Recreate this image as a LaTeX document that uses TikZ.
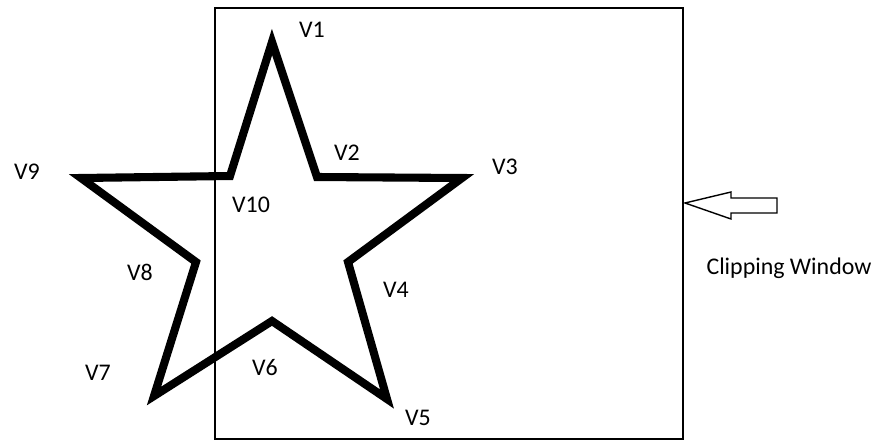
\documentclass[tikz,border=0pt]{standalone}
\usepackage{fontspec}
\setmainfont{Carlito}
\tikzset{
  vlabel/.style={font=\fontsize{13.6}{15}\selectfont, inner sep=0pt},
  starline/.style={line width=4.6pt, line join=miter},
}
\begin{document}
\begin{tikzpicture}[x=0.02cm, y=-0.02cm]
				\useasboundingbox (0,0) rectangle (879,440);
				% clipping window
				\draw[line width=0.8pt] (215,8) rectangle (683,439);
				% star corners
				\coordinate (v1) at (272,42);
				\coordinate (v2) at (317,177);
				\coordinate (v3) at (462,178);
				\coordinate (v4) at (348,262);
				\coordinate (v5) at (387,399);
				\coordinate (v6) at (272,321);
				\coordinate (v7) at (154,396);
				\coordinate (v8) at (196,262);
				\coordinate (v9) at (81,178);
				\coordinate (v10) at (230,176);
				\draw[starline] (v1) -- (v2) -- (v3) -- (v4) -- (v5) -- (v6)
					-- (v7) -- (v8) -- (v9) -- (v10) -- cycle;
				% labels
				\foreach \n/\x/\y in {1/312/30, 2/347/153, 3/505/167, 4/396/290, 5/418/418,
					6/265/368, 7/98/373, 8/140/272, 9/27/172, 10/251/205}{
					\node[vlabel] (lab\n) at (\x,\y) {V\n};
				}
				% arrow and its text
				\coordinate (tip) at (685,203);
				\draw[line width=0.8pt] (tip) -- (731,192) -- (731,198) -- (777,198)
					-- (777,213) -- (731,213) -- (731,219) -- cycle;
				\node[vlabel] (cw) at (789,268) {Clipping Window};
			\end{tikzpicture}
\end{document}
